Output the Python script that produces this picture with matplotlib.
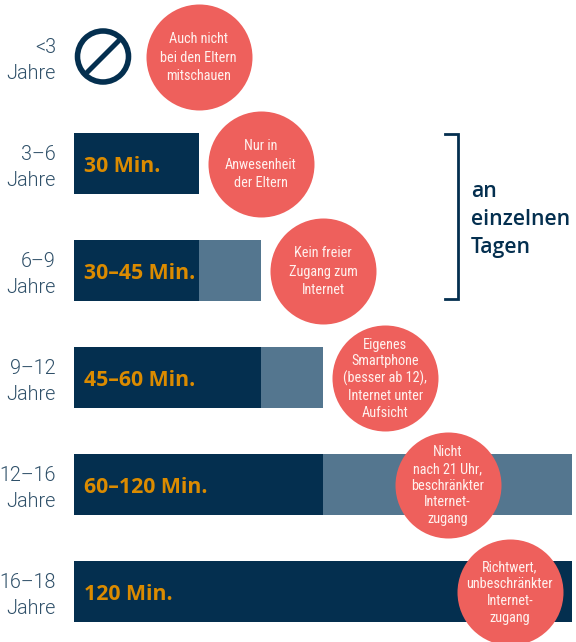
import matplotlib
matplotlib.use("Agg")
import matplotlib.pyplot as plt

ages = ["<3", "3–6", "6–9", "9–12", "12–16", "16–18"]
min_minutes = [0, 30, 30, 45, 60, 120]
max_minutes = [0, 30, 45, 60, 120, 120]
bar_labels = ["", "30 Min.", "30–45 Min.", "45–60 Min.", "60–120 Min.", "120 Min."]
notes = [
    "Auch nicht\nbei den Eltern\nmitschauen",
    "Nur in\nAnwesenheit\nder Eltern",
    "Kein freier\nZugang zum\nInternet",
    "Eigenes\nSmartphone\n(besser ab 12),\nInternet unter\nAufsicht",
    "Nicht\nnach 21 Uhr,\nbeschränkter\nInternet-\nzugang",
    "Richtwert,\nunbeschränkter\nInternet-\nzugang",
]
note_minutes = [30, 45, 60, 75, 90, 105]

navy = "#042F4F"
steel = "#54768F"
coral = "#EE605C"
amber = "#DB8B00"
label_col = "#2F5069"

W, H = 576, 642
PX_PER_MIN = 4.15
X0, ROW0, ROW_H = 74, 56.5, 107

fig = plt.figure(figsize=(W / 100, H / 100), dpi=100)
ax = fig.add_axes([0, 0, 1, 1])
ax.set_xlim(-X0 / PX_PER_MIN, (W - X0) / PX_PER_MIN)
ax.set_ylim((H - ROW0) / ROW_H, -ROW0 / ROW_H)
ax.axis("off")

rows = list(range(len(ages)))
bar_h = 61 / ROW_H

ax.barh(rows, max_minutes, height=bar_h, color=steel, zorder=1)
ax.barh(rows, min_minutes, height=bar_h, color=navy, zorder=2)

# circles sit on top of the bars
ax.scatter(note_minutes, rows, s=(106 * 0.72) ** 2, color=coral, linewidths=0, zorder=3)

for r in rows:
    ax.text(-18 / PX_PER_MIN, r + 0.035, ages[r] + "\nJahre", ha="right", va="center", multialignment="right",
            family="Roboto", weight=300, fontsize=14.2, linespacing=1.46, color=label_col, zorder=4)
    ax.text(10 / PX_PER_MIN, r + 0.03, bar_labels[r], ha="left", va="center",
            family="Open Sans", weight="bold", fontsize=15.3, color=amber, zorder=4)
    n_lines = notes[r].count("\n") + 1
    ax.text(note_minutes[r], r + 0.01, notes[r], ha="center", va="center", multialignment="center",
            family="Roboto Condensed", fontsize=10.3, linespacing=1.4 if n_lines == 3 else 1.24,
            color="#FFF1EE", zorder=4)

# forbidden sign in the first row
icon_x = 29 / PX_PER_MIN
ax.scatter([icon_x], [0], s=(51 * 0.72) ** 2, facecolors="none", edgecolors=navy, linewidths=4, zorder=3)
ax.plot([icon_x - 16.5 / PX_PER_MIN, icon_x + 16.5 / PX_PER_MIN], [16.5 / ROW_H, -16.5 / ROW_H],
        color=navy, lw=3.6, solid_capstyle="butt", zorder=3)

# bracket over rows 1 and 2
br_left = (445 - X0) / PX_PER_MIN
br_right = (458 - X0) / PX_PER_MIN
ax.plot([br_left, br_right, br_right, br_left],
        [1 - 29.5 / ROW_H, 1 - 29.5 / ROW_H, 2 + 28.5 / ROW_H, 2 + 28.5 / ROW_H],
        color=navy, lw=2, solid_joinstyle="miter", zorder=2)
ax.text((471 - X0) / PX_PER_MIN, 1.525, "an\neinzelnen\nTagen", ha="left", va="center",
        family="Open Sans", weight="semibold", fontsize=15.3, linespacing=1.42, color=navy)

fig.savefig("out.png", dpi=100)
